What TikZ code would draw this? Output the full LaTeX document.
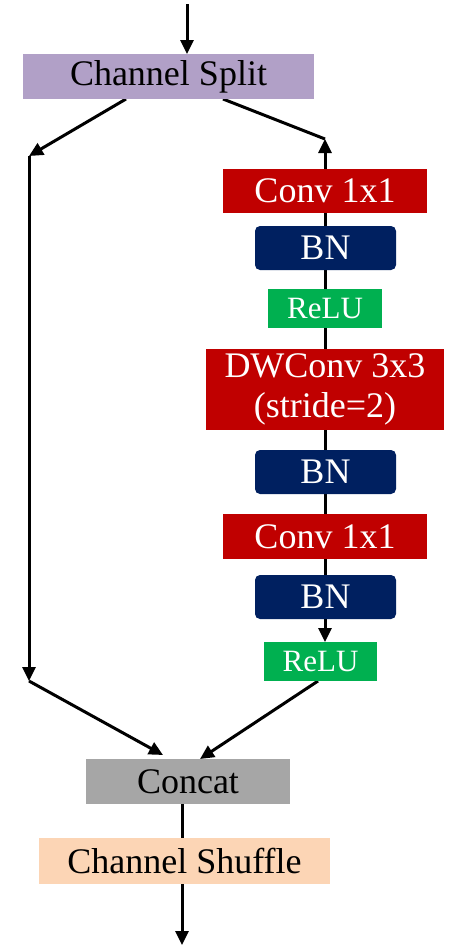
\documentclass[tikz,border=0pt]{standalone}
\usepackage{fontspec}
\setmainfont{Liberation Serif}
\usetikzlibrary{arrows.meta,backgrounds}
\definecolor{splitc}{HTML}{B1A0C7}
\definecolor{convc}{HTML}{C00000}
\definecolor{bnc}{HTML}{002060}
\definecolor{reluc}{HTML}{00B050}
\definecolor{concatc}{HTML}{A6A6A6}
\definecolor{shufc}{HTML}{FCD5B5}
\tikzset{
  blk/.style={inner sep=0pt, outer sep=0pt, align=center, font=\fontsize{36}{40}\selectfont},
  convbox/.style={blk, fill=convc, text=white, minimum width=204pt, minimum height=44pt},
  bnbox/.style={blk, fill=bnc, text=white, rounded corners=5pt, minimum width=141pt, minimum height=44pt},
  relubox/.style={blk, fill=reluc, text=white, font=\fontsize{31}{34}\selectfont, minimum width=114pt, minimum height=39pt},
  conn/.style={line width=3pt, draw=black},
  arr/.style={conn, -{Triangle[length=14pt,width=13pt]}},
}
\begin{document}
\begin{tikzpicture}[x=1pt,y=-1pt]
\useasboundingbox (0,0) rectangle (460,951);
\node[blk, fill=splitc, minimum width=291pt, minimum height=45pt] (split) at (168.5,76.5) {Channel Split};
\node[convbox] (conv1) at (325,191) {Conv 1x1};
\node[bnbox] (bn1) at (325.5,248) {BN};
\node[relubox] (relu1) at (325,308.5) {ReLU};
\node[convbox, minimum width=238pt, minimum height=81pt] (dw) at (325,389.5) {DWConv 3x3\\(stride=2)};
\node[bnbox] (bn2) at (325.5,472) {BN};
\node[convbox, minimum height=45pt] (conv2) at (325,536.5) {Conv 1x1};
\node[bnbox] (bn3) at (325.5,597) {BN};
\node[relubox, minimum width=113pt] (relu2) at (320.5,661.5) {ReLU};
\node[blk, fill=concatc, text=black, minimum width=204pt, minimum height=45pt] (concat) at (188,781.5) {Concat};
\node[blk, fill=shufc, text=black, minimum width=291pt, minimum height=46pt] (shuffle) at (184.5,861) {Channel Shuffle};
\coordinate (in) at (187,4);
\coordinate (out) at (182,945);
\coordinate (cL) at (29,156);
\coordinate (cLb) at (29,681);
\coordinate (cR) at (325,139);
\coordinate (rTop) at (325,169);
\coordinate (rBot) at (325,619);
\coordinate (rReLU) at (325,642);
\begin{pgfonlayer}{background}
\draw[arr] (in) -- (in |- split.north);
\draw[arr] (split.south -| 126,0) -- (cL);
\draw[arr] (cL) -- (cLb);
\draw[arr] (cLb) -- (163,755);
\draw[conn] (split.south -| 223,0) -- (cR);
\draw[arr] (rTop) -- (cR);
\draw[conn] (rTop) -- (rBot);
\draw[arr] (rBot) -- (rReLU);
\draw[arr] (relu2.south -| 318,0) -- (200,759);
\draw[conn] (concat.south -| 182,0) -- (shuffle.north -| 182,0);
\draw[arr] (shuffle.south -| 182,0) -- (out);
\end{pgfonlayer}
\end{tikzpicture}
\end{document}
